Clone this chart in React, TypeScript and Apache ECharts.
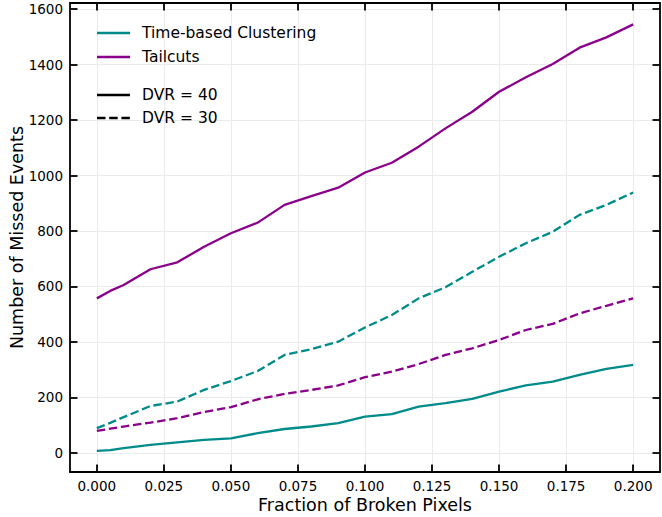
import React, { useEffect, useRef } from "react";
import * as echarts from "echarts";

const fractions = [0, 0.005, 0.01, 0.02, 0.03, 0.04, 0.05, 0.06, 0.07, 0.08, 0.09, 0.1, 0.11, 0.12, 0.13, 0.14, 0.15, 0.16, 0.17, 0.18, 0.19, 0.2];
const timeDvr40 = [7, 10, 17, 29, 38, 47, 52, 71, 86, 95, 107, 131, 140, 167, 179, 195, 221, 243, 257, 281, 303, 317];
const tailDvr40 = [557, 584, 605, 662, 687, 743, 792, 830, 894, 926, 956, 1011, 1046, 1104, 1170, 1230, 1302, 1354, 1402, 1461, 1498, 1545];
const timeDvr30 = [89, 108, 129, 169, 185, 227, 259, 295, 353, 374, 401, 452, 497, 557, 597, 653, 707, 756, 797, 858, 894, 939];
const tailDvr30 = [79, 87, 95, 109, 125, 147, 165, 193, 213, 227, 243, 273, 293, 320, 353, 377, 407, 443, 465, 503, 530, 557];

const xTicks = [0, 0.025, 0.05, 0.075, 0.1, 0.125, 0.15, 0.175, 0.2];
const yTicks = [0, 200, 400, 600, 800, 1000, 1200, 1400, 1600];

const TEAL = "#008b8b";
const PURPLE = "#8b008b";
const FONT = "DejaVu Sans";

export default function App() {
  const ref = useRef<HTMLDivElement>(null);
  useEffect(() => {
    if (!ref.current) return;
    const chart = echarts.init(ref.current, undefined, { renderer: "svg" });
    const pair = (ys: number[]) => fractions.map((x, i) => [x, ys[i]]);
    const dashed = [8.5, 3.7];
    const mkSeries = (name: string, ys: number[], color: string, type: any) => ({
      name,
      type: "line",
      data: pair(ys),
      showSymbol: false,
      symbol: "none",
      lineStyle: { color, width: 2.3, type },
      itemStyle: { color },
    });
    const tickCommon = { show: true, inside: true, length: 7.5, lineStyle: { color: "#000", width: 1.8 } };
    const lineCommon = { show: true, onZero: false, lineStyle: { color: "#000", width: 1.8 } };
    const xMin = -0.01, xMax = 0.21, yMin = -69, yMax = 1622;
    const legendItems = [
      { y: 33, text: "Time-based Clustering", color: TEAL, dash: null },
      { y: 57, text: "Tailcuts", color: PURPLE, dash: null },
      { y: 95, text: "DVR = 40", color: "#000", dash: null },
      { y: 118, text: "DVR = 30", color: "#000", dash: dashed },
    ];
    const graphics: any[] = [];
    legendItems.forEach((it) => {
      graphics.push({
        type: "line",
        shape: { x1: 97, y1: it.y, x2: 130, y2: it.y },
        style: { stroke: it.color, lineWidth: 2.3, lineDash: it.dash || undefined },
        z: 100,
      });
      graphics.push({
        type: "text",
        x: 142,
        y: it.y,
        style: { text: it.text, fill: "#000", font: `15.5px ${FONT}`, verticalAlign: "middle" },
        z: 100,
      });
    });
    chart.setOption({
      animation: false,
      backgroundColor: "#fff",
      textStyle: { fontFamily: FONT },
      grid: { left: 70, right: 2, top: 3, bottom: 45, containLabel: false, outerBoundsMode: "none" },
      xAxis: [
        {
          type: "value",
          min: xMin,
          max: xMax,
          axisLine: lineCommon,
          axisTick: { ...tickCommon, customValues: xTicks },
          axisLabel: {
            customValues: xTicks,
            formatter: (v: number) => v.toFixed(3),
            color: "#000",
            fontSize: 13.5,
            fontFamily: FONT,
            margin: 7,
          },
          splitLine: { show: true, lineStyle: { color: "#ebebeb", width: 1 } },
          name: "Fraction of Broken Pixels",
          nameLocation: "middle",
          nameMoveOverlap: false,
          nameGap: 24,
          nameTextStyle: { fontSize: 17.5, color: "#000", fontFamily: FONT },
        },
        {
          type: "value",
          position: "top",
          min: xMin,
          max: xMax,
          axisLine: lineCommon,
          axisTick: { ...tickCommon, customValues: xTicks },
          axisLabel: { show: false },
          splitLine: { show: false },
        },
      ],
      yAxis: [
        {
          type: "value",
          min: yMin,
          max: yMax,
          axisLine: lineCommon,
          axisTick: { ...tickCommon, customValues: yTicks },
          axisLabel: {
            customValues: yTicks,
            formatter: (v: number) => String(v),
            color: "#000",
            fontSize: 13.5,
            fontFamily: FONT,
            margin: 7,
          },
          splitLine: { show: true, lineStyle: { color: "#ebebeb", width: 1 } },
          name: "Number of Missed Events",
          nameLocation: "middle",
          nameMoveOverlap: false,
          nameGap: 44,
          nameTextStyle: { fontSize: 17.5, color: "#000", fontFamily: FONT },
        },
        {
          type: "value",
          position: "right",
          min: yMin,
          max: yMax,
          axisLine: lineCommon,
          axisTick: { ...tickCommon, customValues: yTicks },
          axisLabel: { show: false },
          splitLine: { show: false },
        },
      ],
      series: [
        mkSeries("Time-based Clustering DVR=40", timeDvr40, TEAL, "solid"),
        mkSeries("Tailcuts DVR=40", tailDvr40, PURPLE, "solid"),
        mkSeries("Time-based Clustering DVR=30", timeDvr30, TEAL, dashed),
        mkSeries("Tailcuts DVR=30", tailDvr30, PURPLE, dashed),
      ],
      graphic: graphics,
    });
    return () => chart.dispose();
  }, []);
  return <div ref={ref} style={{ width: 662, height: 517, position: "absolute", left: 0, top: 0 }} />;
}
